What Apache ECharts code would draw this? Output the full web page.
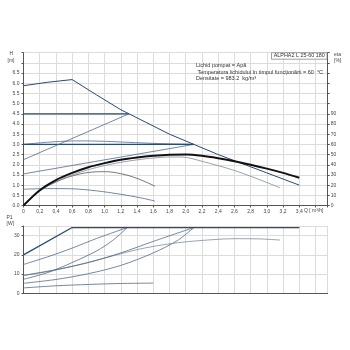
<!DOCTYPE html>
<html>
<head>
<meta charset="utf-8">
<script src="https://cdn.jsdelivr.net/npm/echarts@6/dist/echarts.min.js"></script>
<style>
  html, body { margin: 0; padding: 0; background: #fff; }
  #chart { width: 350px; height: 350px; }
</style>
</head>
<body>
<div id="chart"></div>
<script>
// --- data ---
// head curves H [m] against Q [m3/h]
const maxQ = [0, 0.3, 0.6, 0.9, 1.2, 1.5, 1.8, 2.1, 2.4, 2.7, 3.0, 3.4]
const maxH = [5.88, 6.05, 6.18, 5.43, 4.7, 4.1, 3.5, 3.0, 2.5, 2.05, 1.6, 1.0]
const cpHighQ = [0, 1.3]
const cpHighH = [4.5, 4.5]
const ppHighQ = [0, 1.3]
const ppHighH = [2.25, 4.5]
const cpLowQ = [0, 2.1]
const cpLowH = [3.0, 3.0]
const ppLowQ = [0, 2.1]
const ppLowH = [1.55, 3.0]
const speed2Q = [0, 0.35, 0.7, 1.0, 1.3, 1.6, 1.85, 2.1]
const speed2H = [3.0, 3.12, 3.17, 3.15, 3.1, 3.05, 3.02, 3.0]
const speed1Q = [0, 0.3, 0.6, 0.9, 1.2, 1.44, 1.62]
const speed1H = [0.8, 0.83, 0.82, 0.72, 0.55, 0.38, 0.22]
const arcQ = [0, 0.2, 0.4, 0.6, 0.8, 1.0, 1.2, 1.4, 1.62]
const arcH = [0, 0.72, 1.15, 1.45, 1.62, 1.66, 1.56, 1.33, 0.95]
const grayQ = [0, 0.2, 0.4, 0.6, 0.8, 1.0, 1.2, 1.4, 1.6, 1.8, 1.95, 2.2, 2.6, 3.0, 3.16]
const grayH = [0, 0.7, 1.17, 1.5, 1.76, 1.96, 2.12, 2.24, 2.33, 2.38, 2.38, 2.17, 1.72, 1.13, 0.87]
const dutyQ = [0, 0.2, 0.4, 0.6, 0.8, 1.0, 1.2, 1.4, 1.6, 1.8, 2.0, 2.2, 2.4, 2.6, 2.8, 3.0, 3.2, 3.4]
const dutyH = [0, 0.75, 1.25, 1.6, 1.88, 2.08, 2.25, 2.36, 2.44, 2.49, 2.5, 2.44, 2.32, 2.17, 2.0, 1.81, 1.6, 1.36]

// power curves P1 [W]
const pMaxQ = [0, 0.6, 3.4]
const pMax = [20, 34.2, 34.2]
const pCpHighQ = [0, 0.3, 0.6, 0.9, 1.28]
const pCpHigh = [15, 19, 23.5, 28.5, 34.2]
const pPpHighQ = [0, 0.3, 0.6, 0.9, 1.1, 1.28]
const pPpHigh = [7.3, 10.8, 16, 22, 27.5, 34.2]
const pCpLowQ = [0, 0.4, 0.8, 1.2, 1.6, 2.1]
const pCpLow = [9.3, 12.3, 16, 21, 27, 34.2]
const pPpLowQ = [0, 0.4, 0.8, 1.2, 1.6, 1.9, 2.1]
const pPpLow = [5.2, 7.2, 10.2, 14.5, 21, 27.5, 34.2]
const pSpeed2Q = [0, 0.3, 0.6, 0.9, 1.2, 1.5, 1.9, 2.3, 2.6, 2.9, 3.16]
const pSpeed2 = [9.3, 11.3, 14, 17.2, 20.6, 23.6, 26.3, 27.8, 28.4, 28.3, 27.7]
const pSpeed1Q = [0, 0.4, 0.8, 1.2, 1.6]
const pSpeed1 = [2.8, 3.9, 4.6, 5.1, 5.3]

const infoLines = [
  'Lichid pompat = Apă',
  'Temperatura lichidului în timpul funcţionării = 60  °C',
  'Densitate = 983.2  kg/m³'
]
const pumpName = 'ALPHA2 L 25-60 180'

const zip = (q, v) => q.map((x, i) => [x, v[i]])

const FONT = 'Liberation Sans, Arial, sans-serif'
const NAVY = '#2a4a70'
const SLATE = '#52698a'
const GRAY = '#7f8c9b'

const line = (q, v, opts = {}) => ({
  type: 'line',
  data: zip(q, v),
  showSymbol: false,
  silent: true,
  xAxisIndex: opts.x || 0,
  yAxisIndex: opts.y || 0,
  smooth: opts.smooth || false,
  lineStyle: { color: opts.color || SLATE, width: opts.width || 0.8 },
  z: opts.z || 2
})

const chart = echarts.init(document.getElementById('chart'), null, { renderer: 'canvas' })

const axisText = { color: '#444', fontSize: 5, fontFamily: FONT }
const gridLine = { lineStyle: { color: '#dcdcdc', width: 1 } }

const xLabel = v => {
  if (v > 3.5) return ''
  if (v === 0) return '0'
  return v.toFixed(1).replace('.', ',')
}

const option = {
  animation: false,
  backgroundColor: '#fff',
  grid: [
    { left: 23.5, right: 22.3, top: 52.7, height: 152.8 },
    { left: 23.5, right: 22.3, top: 226, height: 67.3 }
  ],
  xAxis: [
    {
      gridIndex: 0, type: 'value', min: 0, max: 3.75, interval: 0.2,
      axisLine: { lineStyle: { color: '#555' } },
      axisTick: { length: 2, lineStyle: { color: '#555' } },
      axisLabel: { ...axisText, margin: 4, formatter: xLabel },
      splitLine: gridLine
    },
    {
      gridIndex: 1, type: 'value', min: 0, max: 3.75, interval: 0.2,
      axisLine: { lineStyle: { color: '#555' } },
      axisTick: { show: false },
      axisLabel: { show: false },
      splitLine: gridLine
    }
  ],
  yAxis: [
    {
      gridIndex: 0, type: 'value', min: 0, max: 7.5, interval: 0.5,
      axisLine: { show: true, lineStyle: { color: '#555' } },
      axisTick: { show: true, length: 2, lineStyle: { color: '#555' } },
      axisLabel: { ...axisText, margin: 4, formatter: v => (v > 6.6 ? '' : v.toFixed(1)) },
      splitLine: gridLine
    },
    {
      gridIndex: 0, type: 'value', position: 'right', min: 0, max: 150, interval: 10,
      axisLine: { show: true, lineStyle: { color: '#555' } },
      axisTick: { show: true, length: 2, lineStyle: { color: '#555' } },
      axisLabel: { ...axisText, margin: 3, formatter: v => (v > 95 ? '' : String(v)) },
      splitLine: { show: false }
    },
    {
      gridIndex: 1, type: 'value', min: 0, max: 35, interval: 10,
      axisLine: { show: true, lineStyle: { color: '#555' } },
      axisTick: { show: true, length: 2, lineStyle: { color: '#555' } },
      axisLabel: { ...axisText, margin: 4, formatter: v => (v > 31 ? '' : String(v)) },
      splitLine: gridLine
    }
  ],
  series: [
    line(speed1Q, speed1H, { smooth: 0.3, color: SLATE }),
    line(arcQ, arcH, { smooth: 0.4, color: '#555' }),
    line(grayQ, grayH, { smooth: 0.3, color: GRAY }),
    line(speed2Q, speed2H, { smooth: 0.4, color: SLATE }),
    line(ppLowQ, ppLowH, { color: SLATE }),
    line(cpLowQ, cpLowH, { color: NAVY, width: 1.1 }),
    line(ppHighQ, ppHighH, { color: SLATE }),
    line(cpHighQ, cpHighH, { color: NAVY, width: 1.2 }),
    line(maxQ, maxH, { color: NAVY, width: 1, z: 3 }),
    line(dutyQ, dutyH, { smooth: 0.3, color: '#111', width: 2, z: 4 }),

    line(pSpeed1Q, pSpeed1, { x: 1, y: 2, smooth: 0.3 }),
    line(pPpLowQ, pPpLow, { x: 1, y: 2, smooth: 0.3 }),
    line(pSpeed2Q, pSpeed2, { x: 1, y: 2, smooth: 0.3, color: GRAY }),
    line(pCpLowQ, pCpLow, { x: 1, y: 2, smooth: 0.3 }),
    line(pPpHighQ, pPpHigh, { x: 1, y: 2, smooth: 0.3 }),
    line(pCpHighQ, pCpHigh, { x: 1, y: 2, smooth: 0.3 }),
    line(pMaxQ, pMax, { x: 1, y: 2, color: NAVY, width: 1.3, z: 3 })
  ],
  graphic: [
    { type: 'text', left: 9.5, top: 51, style: { text: 'H', font: '5px ' + FONT, fill: '#444' } },
    { type: 'text', left: 7.5, top: 58, style: { text: '[m]', font: '5px ' + FONT, fill: '#444' } },
    { type: 'text', left: 334, top: 52, style: { text: 'eta', font: '5px ' + FONT, fill: '#444' } },
    { type: 'text', left: 334, top: 58, style: { text: '[%]', font: '5px ' + FONT, fill: '#444' } },
    { type: 'text', left: 6.5, top: 215, style: { text: 'P1', font: '5px ' + FONT, fill: '#444' } },
    { type: 'text', left: 6.5, top: 221, style: { text: '[W]', font: '5px ' + FONT, fill: '#444' } },
    { type: 'text', left: 304, top: 208.5, style: { text: 'Q [ m³/h]', font: '5px ' + FONT, fill: '#444' } },
    {
      type: 'rect', shape: { x: 271.5, y: 52.7, width: 55.5, height: 6.5 },
      style: { fill: '#fff', stroke: '#888', lineWidth: 0.8 }, z: 10
    },
    {
      type: 'text', x: 299.2, y: 56, z: 11,
      style: { text: pumpName, font: '5.4px ' + FONT, fill: '#333', align: 'center', verticalAlign: 'middle' }
    },
    ...infoLines.map((t, i) => ({
      type: 'text', x: i === 1 ? 197.5 : 196, y: 65.7 + i * 6.5, z: 11,
      style: { text: t, font: '5.5px ' + FONT, fill: '#333', verticalAlign: 'middle' }
    }))
  ]
}

chart.setOption(option)
</script>
</body>
</html>
